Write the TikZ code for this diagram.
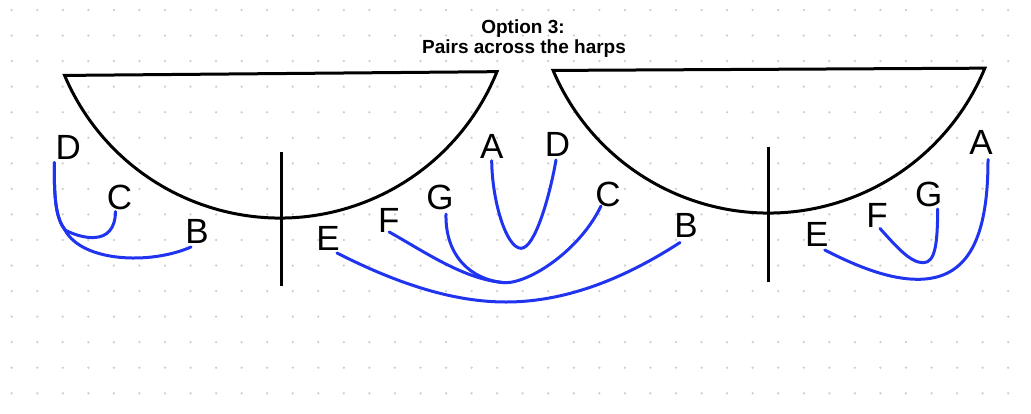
\documentclass[tikz,border=0pt]{standalone}
\usepackage{fontspec}
\setmainfont{Liberation Sans}
\usetikzlibrary{calc}
\definecolor{wireblue}{RGB}{32,52,240}
\definecolor{dotgray}{RGB}{204,204,204}
\tikzset{
  harp/.style={draw=black, line width=3pt, line join=miter},
  post/.style={draw=black, line width=3pt},
  wire/.style={draw=wireblue, line width=3pt, line cap=round},
  letter/.style={inner sep=0pt, anchor=center, font=\fontsize{35}{40}\selectfont},
  titletext/.style={inner sep=0pt, anchor=base, font=\bfseries\fontsize{19}{21}\selectfont},
  griddot/.style={fill=dotgray}
}
\begin{document}
\begin{tikzpicture}[x=1pt, y=-1pt]
\useasboundingbox (0,0) rectangle (1031,413);
% dotted grid
\foreach \i in {0,...,39}{
  \foreach \j in {0,...,15}{
    \fill[griddot] ({11.7+25.55*\i},{10+25.55*\j}) circle (1.25);
  }
}
% title
\node[titletext] (t1) at (523,33.5) {Option 3:};
\node[titletext] (t2) at (524,53.3) {Pairs across the harps};
% harps
\coordinate (h1c) at (280,-16);
\coordinate (h2c) at (768.5,-21);
\draw[harp] ([shift={(h1c)}]157:234) arc[start angle=157, end angle=22, radius=234] -- cycle;
\draw[harp] ([shift={(h2c)}]157:234) arc[start angle=157, end angle=22.4, radius=234] -- cycle;
\coordinate (p1t) at (281,152); \coordinate (p1b) at (281,286);
\coordinate (p2t) at (768.7,147); \coordinate (p2b) at (768.7,282);
\draw[post] (p1t) -- (p1b);
\draw[post] (p2t) -- (p2b);
% letters
\node[letter] (D1) at (68.3,147.5) {D};
\node[letter] (C1) at (119.5,197.5) {C};
\node[letter] (B1) at (197,231) {B};
\node[letter] (E1) at (328,238) {E};
\node[letter] (F1) at (388.7,220) {F};
\node[letter] (G1) at (440,197.5) {G};
\node[letter] (A1) at (491.7,146.7) {A};
\node[letter] (D2) at (557.5,144) {D};
\node[letter] (C2) at (608,194) {C};
\node[letter] (B2) at (686,225.5) {B};
\node[letter] (E2) at (816.7,234) {E};
\node[letter] (F2) at (877,215.5) {F};
\node[letter] (G2) at (928.7,194) {G};
\node[letter] (A2) at (981,142.5) {A};
% wire ends
\coordinate (d1) at ($(D1)+(-14,15)$);
\coordinate (c1) at ($(C1)+(-4,14)$);
\coordinate (b1) at ($(B1)+(-6,16)$);
\coordinate (e1) at ($(E1)+(9,15)$);
\coordinate (f1) at ($(F1)+(0.5,12)$);
\coordinate (g1) at ($(G1)+(6,16.5)$);
\coordinate (a1) at ($(A1)+(0,14)$);
\coordinate (d2) at ($(D2)+(-1.5,16)$);
\coordinate (c2) at ($(C2)+(-7,12)$);
\coordinate (b2) at ($(B2)+(-6,17)$);
\coordinate (e2) at ($(E2)+(8,16)$);
\coordinate (f2) at ($(F2)+(3,13)$);
\coordinate (g2) at ($(G2)+(9,15)$);
\coordinate (a2) at ($(A2)+(7,17)$);
\coordinate (j1) at (65,230);
\coordinate (j2) at (505,282.7);
% left harp pairs
\draw[wire] (d1) .. controls (54,200) and (56,218) .. (j1) .. controls (80,238) and (115,248) .. (c1);
\draw[wire] (d1) .. controls (54,200) and (56,218) .. (j1) .. controls (82,262) and (150,265) .. (b1);
% across
\draw[wire] (a1) .. controls (492,200) and (506,248) .. (521,248.3) .. controls (535,248.5) and (550,195) .. (d2);
\draw[wire] (e1) .. controls (400,285) and (455,302) .. (506,302) .. controls (570,302) and (630,275) .. (b2);
\draw[wire] (f1) .. controls (425,252) and (465,280) .. (j2) .. controls (530,283) and (580,250) .. (c2);
\draw[wire] (g1) .. controls (445,255) and (470,280) .. (j2);
% right harp pairs
\draw[wire] (e2) .. controls (860,268) and (890,279) .. (916.7,279.3) .. controls (970,280) and (988,235) .. (a2);
\draw[wire] (f2) .. controls (895,245) and (910,263) .. (923.3,262.7) .. controls (935,262.5) and (937.5,245) .. (g2);
\end{tikzpicture}
\end{document}
